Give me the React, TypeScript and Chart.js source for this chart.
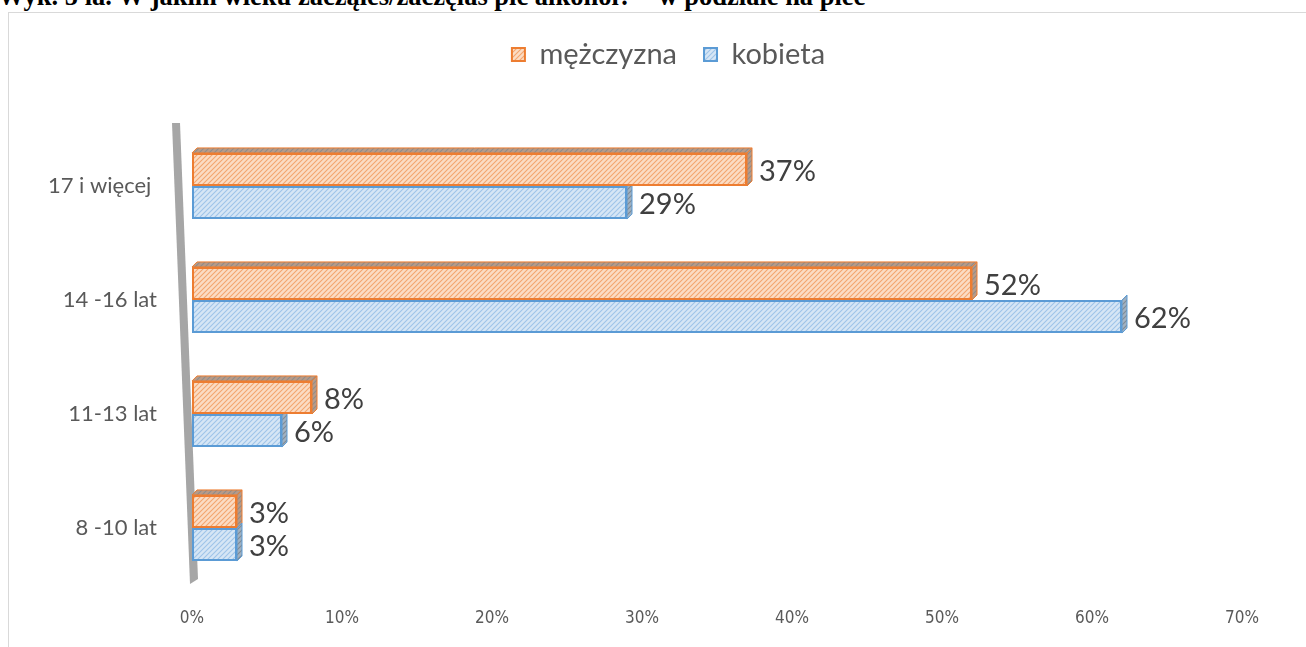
import React, { useEffect, useRef } from "react";
import { Chart, registerables } from "chart.js";

Chart.register(...registerables);

const categories = ["17 i więcej ", "14 -16 lat", "11-13 lat", "8 -10 lat"];
const seriesNames = ["mężczyzna", "kobieta"];
const menValues = [37, 52, 8, 3];
const womenValues = [29, 62, 6, 3];
const tickValues = [0, 10, 20, 30, 40, 50, 60, 70];

function makePattern(bg: string, line: string, size = 5) {
  const c = document.createElement("canvas");
  c.width = size;
  c.height = size;
  const g = c.getContext("2d")!;
  g.fillStyle = bg;
  g.fillRect(0, 0, size, size);
  g.strokeStyle = line;
  g.lineWidth = 1.1;
  g.beginPath();
  g.moveTo(-1, size + 1);
  g.lineTo(size + 1, -1);
  g.moveTo(-1, 1);
  g.lineTo(1, -1);
  g.moveTo(size - 1, size + 1);
  g.lineTo(size + 1, size - 1);
  g.stroke();
  return g.createPattern(c, "repeat")!;
}

export default function App() {
  const ref = useRef<HTMLCanvasElement>(null);

  useEffect(() => {
    const canvas = ref.current!;
    const ctx = canvas.getContext("2d")!;
    const orangeFill = makePattern("#fbdcc4", "#f3a56f");
    const blueFill = makePattern("#d6e6f5", "#9fc4e8");
    const orangeDark = makePattern("#b99a86", "#8d8d8d");
    const blueDark = makePattern("#9fb1c2", "#7f8a94");

    const legendSpace = {
      id: "legendSpace",
      beforeInit(chart: any) {
        const lg = chart.legend;
        if (!lg) return;
        const origFit = lg.fit;
        lg.fit = function () {
          origFit.call(this);
          this.height += 50;
        };
        const origDraw = lg.draw;
        lg.draw = function () {
          this.ctx.save();
          this.ctx.translate(43, 0);
          origDraw.call(this);
          this.ctx.restore();
        };
      },
    };

    const decor = {
      id: "decor",
      beforeDatasetsDraw(chart: any) {
        const c = chart.ctx;
        const area = chart.chartArea;
        const x0 = chart.scales.x.getPixelForValue(0);
        c.save();
        c.fillStyle = "#a6a6a6";
        c.beginPath();
        c.moveTo(x0 - 20, area.top - 6);
        c.lineTo(x0 - 12, area.top - 6);
        c.lineTo(x0 + 6, area.bottom - 6);
        c.lineTo(x0 - 2, area.bottom - 1);
        c.closePath();
        c.fill();
        const d = 5;
        chart.data.datasets.forEach((ds: any, i: number) => {
          const meta = chart.getDatasetMeta(i);
          meta.data.forEach((el: any) => {
            const p = el.getProps(["x", "y", "base", "height"], true);
            const top = p.y - p.height / 2;
            const bot = p.y + p.height / 2;
            c.fillStyle = i === 0 ? orangeDark : blueDark;
            c.strokeStyle = ds.borderColor;
            c.lineWidth = 1;
            c.beginPath();
            c.moveTo(p.x, top);
            c.lineTo(p.x + d, top - d);
            c.lineTo(p.x + d, bot - d);
            c.lineTo(p.x, bot);
            c.closePath();
            c.fill();
            c.stroke();
            if (i === 0) {
              c.beginPath();
              c.moveTo(p.base, top);
              c.lineTo(p.base + d, top - d);
              c.lineTo(p.x + d, top - d);
              c.lineTo(p.x, top);
              c.closePath();
              c.fill();
              c.stroke();
            }
          });
        });
        c.restore();
      },
      afterDatasetsDraw(chart: any) {
        const c = chart.ctx;
        c.save();
        c.font = '29px Lato, "Open Sans", sans-serif';
        c.fillStyle = "#404040";
        c.textAlign = "left";
        c.textBaseline = "middle";
        chart.data.datasets.forEach((ds: any, i: number) => {
          const meta = chart.getDatasetMeta(i);
          meta.data.forEach((el: any, j: number) => {
            const p = el.getProps(["x", "y"], true);
            c.fillText(ds.data[j] + "%", p.x + 12, p.y + 2);
          });
        });
        c.restore();
      },
    };

    const chart = new Chart(ctx, {
      type: "bar",
      data: {
        labels: categories,
        datasets: [
          {
            label: seriesNames[0],
            data: menValues,
            backgroundColor: orangeFill,
            borderColor: "#ed7d31",
            borderWidth: 2,
            borderSkipped: false,
            barPercentage: 1,
            categoryPercentage: 0.58,
          },
          {
            label: seriesNames[1],
            data: womenValues,
            backgroundColor: blueFill,
            borderColor: "#5b9bd5",
            borderWidth: 2,
            borderSkipped: false,
            barPercentage: 1,
            categoryPercentage: 0.58,
          },
        ],
      },
      options: {
        indexAxis: "y",
        animation: false,
        responsive: false,
        devicePixelRatio: 1,
        layout: { padding: { top: 0, right: 64, left: 0, bottom: 0 } },
        scales: {
          x: {
            min: 0,
            max: 70,
            afterBuildTicks: (s: any) => {
              s.ticks = tickValues.map((v) => ({ value: v }));
            },
            afterFit: (s: any) => {
              s.height = 62;
            },
            grid: { display: false, drawTicks: false },
            border: { display: false },
            ticks: {
              padding: 23,
              color: "#595959",
              font: { family: '"Liberation Sans Narrow", "DejaVu Sans Condensed", sans-serif', size: 17 },
              callback: (v: any) => v + "%",
            },
          },
          y: {
            afterFit: (s: any) => {
              s.width = 183;
            },
            grid: { display: false, drawTicks: false },
            border: { display: false },
            ticks: {
              padding: 35,
              color: "#595959",
              font: { family: 'Lato, "Open Sans", sans-serif', size: 22 },
            },
          },
        },
        plugins: {
          legend: {
            position: "top",
            labels: {
              boxWidth: 13,
              boxHeight: 13,
              padding: 27,
              color: "#595959",
              font: { family: 'Lato, "Open Sans", sans-serif', size: 29 },
            },
          },
          tooltip: { enabled: false },
        },
      },
      plugins: [legendSpace, decor],
    });
    return () => chart.destroy();
  }, []);

  return (
    <div
      style={{
        position: "fixed",
        left: 0,
        top: 0,
        width: 1306,
        height: 647,
        overflow: "hidden",
        background: "#fff",
      }}
    >
      <div
        style={{
          position: "absolute",
          left: -2,
          top: -17,
          font: 'bold 26.5px "Liberation Serif", "Times New Roman", serif',
          lineHeight: "26.5px",
          whiteSpace: "nowrap",
          color: "#000",
        }}
      >
        Wyk. 5 ła. W jakim wieku zacząłeś/zaczęłaś pić alkohol? – w podziale na płeć
      </div>
      <div
        style={{
          position: "absolute",
          left: 8,
          top: 12,
          width: 1400,
          height: 700,
          border: "1px solid #d9d9d9",
        }}
      >
        <canvas ref={ref} width={1297} height={634} style={{ display: "block" }} />
      </div>
    </div>
  );
}
